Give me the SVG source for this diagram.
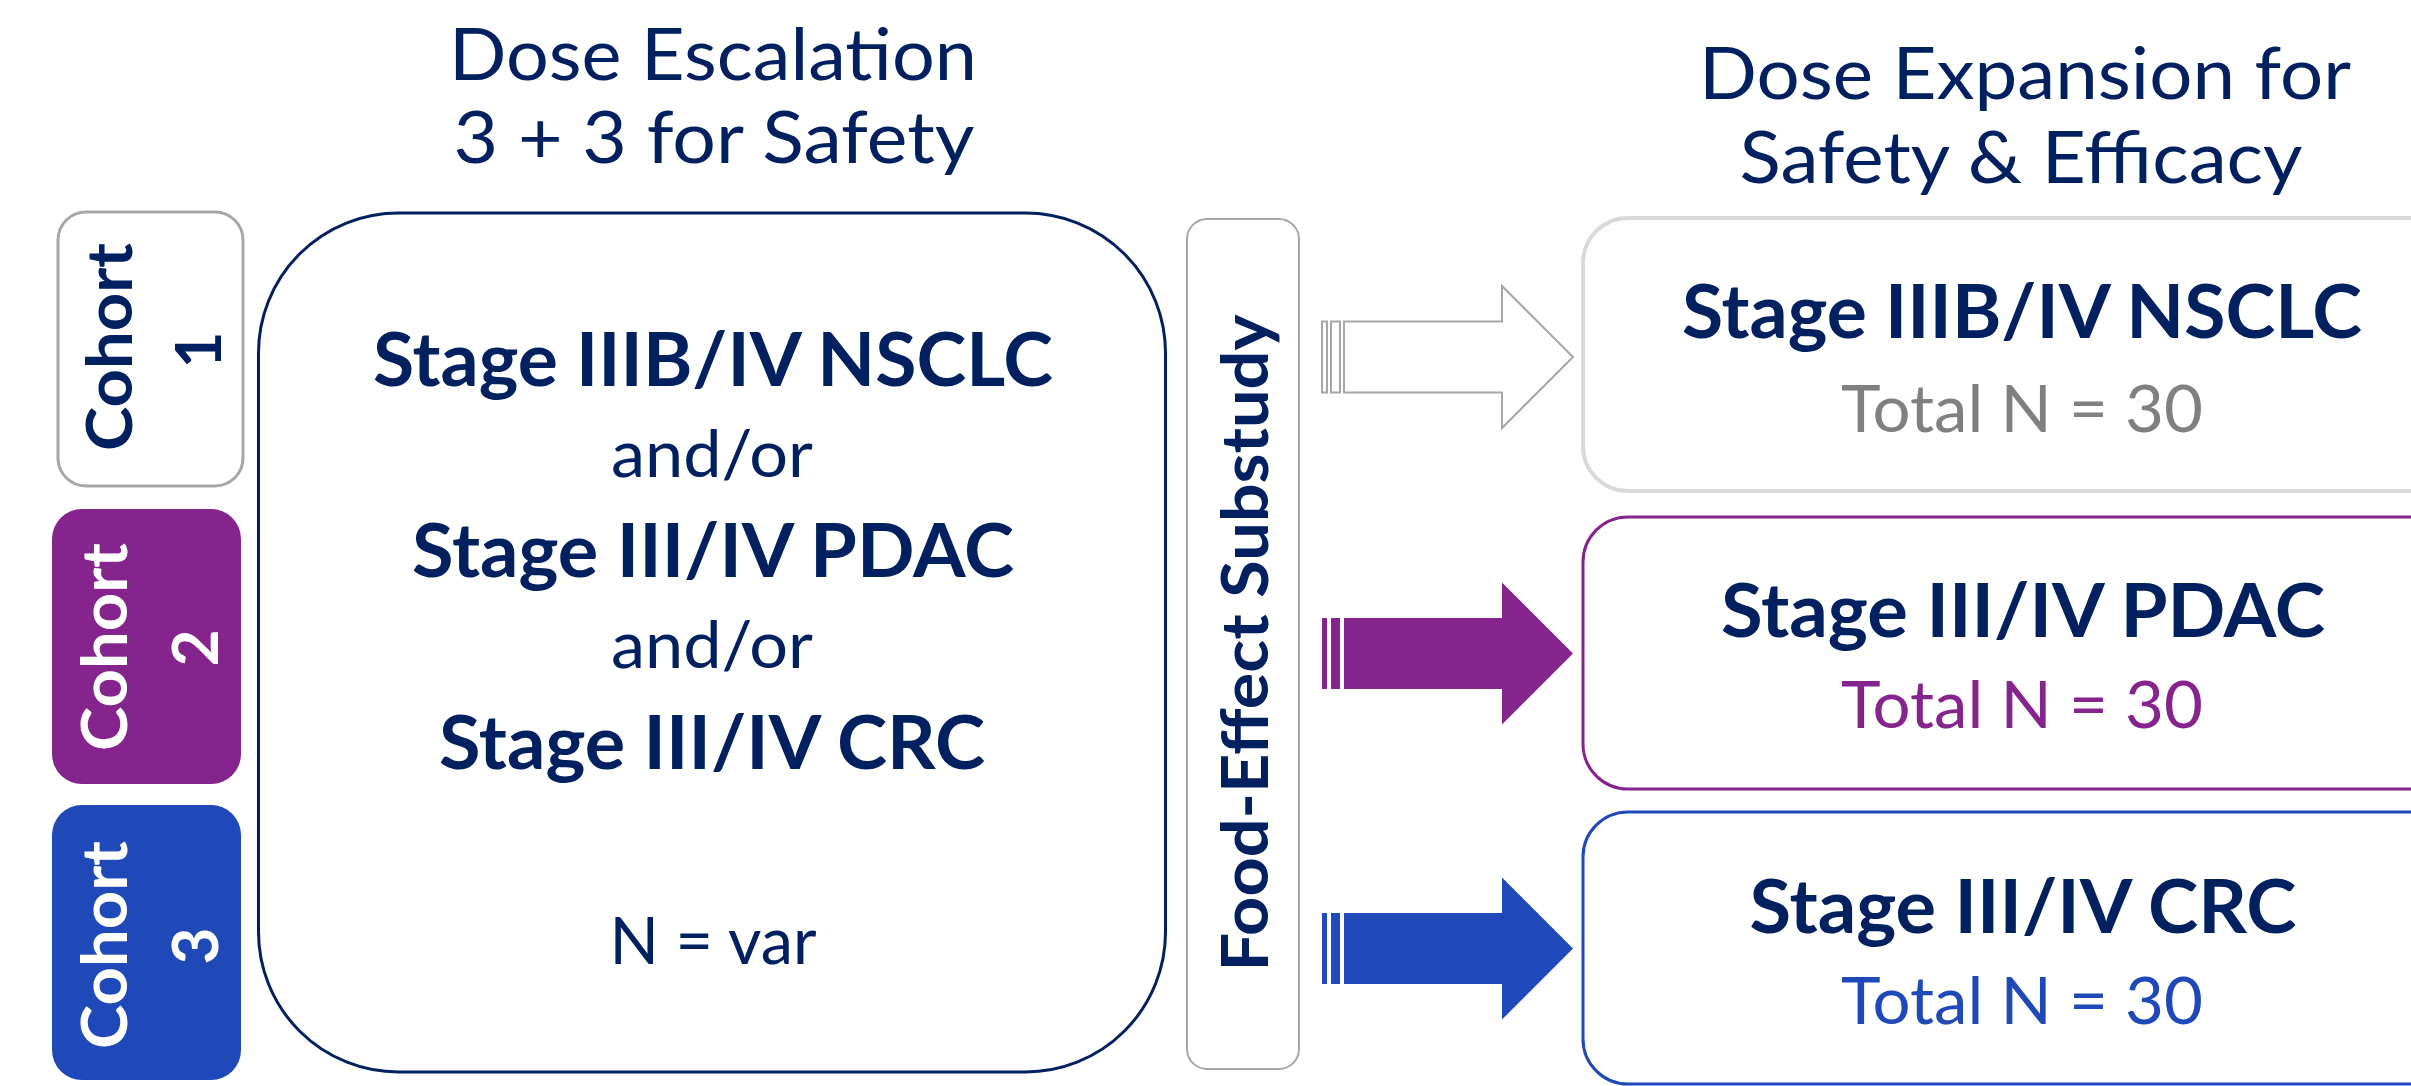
<svg xmlns="http://www.w3.org/2000/svg" xmlns:xlink="http://www.w3.org/1999/xlink" width="2411" height="1086" viewBox="0 0 2411 1086">
  <style>
    text { font-family: Lato, "Open Sans", "Liberation Sans", sans-serif; fill: #002060; }
    .hd { font-size: 72px; text-anchor: middle; }
    .big { font-size: 75px; font-weight: 700; text-anchor: middle; }
    .reg { font-size: 65px; text-anchor: middle; }
    .coh { font-size: 64px; font-weight: 700; text-anchor: middle; }
    .white { fill: #ffffff; }
    .gray { fill: #808080; }
    .purple { fill: #84248C; }
    .blue { fill: #1F48B8; }
    .arrow-out { fill: #ffffff; stroke: #A6A6A6; stroke-width: 2; }
    .arrow-purple { fill: #84248C; }
    .arrow-blue { fill: #1F48B8; }
  </style>
  <defs>
    <!-- striped block arrow, centred on y = 0 -->
    <g id="blockArrow">
      <rect x="1322" y="-35.5" width="5" height="71"/>
      <rect x="1331" y="-35.5" width="9" height="71"/>
      <path d="M1344,-35.5 H1502 V-71 L1573,0 L1502,71 V35.5 H1344 Z"/>
    </g>
  </defs>
  <rect width="2411" height="1086" fill="#ffffff"/>

  <!-- column headings -->
  <g id="heading-escalation">
    <text class="hd" x="713" y="80" textLength="528" lengthAdjust="spacingAndGlyphs">Dose Escalation</text>
    <text class="hd" x="714" y="163" textLength="521" lengthAdjust="spacingAndGlyphs">3 + 3 for Safety</text>
  </g>
  <g id="heading-expansion">
    <text class="hd" x="2025" y="99" textLength="652" lengthAdjust="spacingAndGlyphs">Dose Expansion for</text>
    <text class="hd" x="2021" y="183" textLength="563" lengthAdjust="spacingAndGlyphs">Safety &amp; Efficacy</text>
  </g>

  <!-- cohort tabs -->
  <g id="cohort-1">
    <rect x="58" y="212" width="185" height="274" rx="28" fill="#ffffff" stroke="#A6A6A6" stroke-width="3"/>
    <text class="coh" transform="translate(132,347) rotate(-90)" textLength="208" lengthAdjust="spacingAndGlyphs">Cohort</text>
    <text class="coh" transform="translate(221,350) rotate(-90)">1</text>
  </g>
  <g id="cohort-2">
    <rect x="52" y="509" width="189" height="275" rx="30" fill="#84248C"/>
    <text class="coh white" transform="translate(127,647) rotate(-90)" textLength="208" lengthAdjust="spacingAndGlyphs">Cohort</text>
    <text class="coh white" transform="translate(218,648) rotate(-90)">2</text>
  </g>
  <g id="cohort-3">
    <rect x="52" y="805" width="189" height="275" rx="30" fill="#1F48B8"/>
    <text class="coh white" transform="translate(127,945) rotate(-90)" textLength="208" lengthAdjust="spacingAndGlyphs">Cohort</text>
    <text class="coh white" transform="translate(218,946) rotate(-90)">3</text>
  </g>

  <!-- dose escalation box -->
  <g id="escalation">
    <rect x="258.5" y="213" width="907" height="859" rx="140" fill="#ffffff" stroke="#002060" stroke-width="3"/>
    <text class="big" x="713" y="386" textLength="680" lengthAdjust="spacingAndGlyphs">Stage IIIB/IV NSCLC</text>
    <text class="reg" x="712" y="477" textLength="202" lengthAdjust="spacingAndGlyphs">and/or</text>
    <text class="big" x="713" y="577" textLength="602" lengthAdjust="spacingAndGlyphs">Stage III/IV PDAC</text>
    <text class="reg" x="712" y="668" textLength="202" lengthAdjust="spacingAndGlyphs">and/or</text>
    <text class="big" x="712" y="769" textLength="546" lengthAdjust="spacingAndGlyphs">Stage III/IV CRC</text>
    <text class="reg" x="713" y="964" textLength="207" lengthAdjust="spacingAndGlyphs">N = var</text>
  </g>

  <!-- food-effect substudy bar -->
  <g id="food-effect">
    <rect x="1187" y="219" width="112" height="850" rx="20" fill="#ffffff" stroke="#A6A6A6" stroke-width="2"/>
    <text class="reg" font-weight="700" transform="translate(1268,643) rotate(-90)" textLength="657" lengthAdjust="spacingAndGlyphs">Food-Effect Substudy</text>
  </g>

  <!-- arrows into expansion cohorts -->
  <g id="connectors">
    <use xlink:href="#blockArrow" href="#blockArrow" class="arrow-out" transform="translate(0,357)"/>
    <use xlink:href="#blockArrow" href="#blockArrow" class="arrow-purple" transform="translate(0,653.5)"/>
    <use xlink:href="#blockArrow" href="#blockArrow" class="arrow-blue" transform="translate(0,948.5)"/>
  </g>

  <!-- expansion cohorts -->
  <g id="expansion-nsclc">
    <rect x="1583" y="218" width="900" height="273" rx="45" fill="#ffffff" stroke="#D9D9D9" stroke-width="4"/>
    <text class="big" x="2022" y="338" textLength="680" lengthAdjust="spacingAndGlyphs">Stage IIIB/IV NSCLC</text>
    <text class="reg gray" x="2022" y="432" textLength="362" lengthAdjust="spacingAndGlyphs">Total N = 30</text>
  </g>
  <g id="expansion-pdac">
    <rect x="1583" y="517" width="900" height="272" rx="45" fill="#ffffff" stroke="#84248C" stroke-width="3"/>
    <text class="big" x="2023" y="637" textLength="604" lengthAdjust="spacingAndGlyphs">Stage III/IV PDAC</text>
    <text class="reg purple" x="2022" y="728" textLength="362" lengthAdjust="spacingAndGlyphs">Total N = 30</text>
  </g>
  <g id="expansion-crc">
    <rect x="1583" y="812" width="900" height="272" rx="45" fill="#ffffff" stroke="#1F48B8" stroke-width="3"/>
    <text class="big" x="2023" y="933" textLength="547" lengthAdjust="spacingAndGlyphs">Stage III/IV CRC</text>
    <text class="reg blue" x="2022" y="1024" textLength="362" lengthAdjust="spacingAndGlyphs">Total N = 30</text>
  </g>
</svg>
